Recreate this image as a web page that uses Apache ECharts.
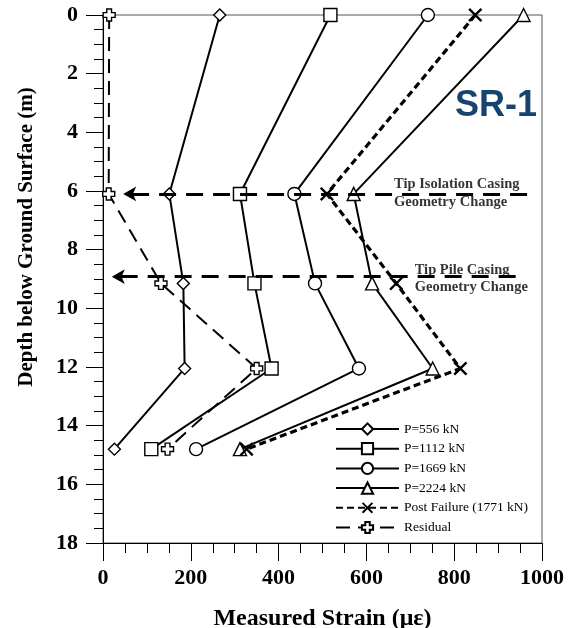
<!DOCTYPE html>
<html>
<head>
<meta charset="utf-8">
<script src="https://cdn.jsdelivr.net/npm/echarts@6/dist/echarts.min.js"></script>
<style>
  html, body { margin: 0; padding: 0; background: #fff; }
  #chart { width: 569px; height: 628px; }
</style>
</head>
<body>
<div id="chart"></div>
<script>
// depths (m) of the gauge levels
const depths = [0, 6.1, 9.15, 12.05, 14.8]

// measured strain (micro-strain) per load at each depth
const p556 = [266, 151, 183, 186, 26]
const p1112 = [518, 312, 345, 384, 110]
const p1669 = [740, 436, 483, 583, 212]
const p2224 = [958, 571, 613, 751, 312]
const postFailure = [848, 510, 668, 814, 327]
const residual = [14, 13, 132, 350, 147]

const seriesNames = ['P=556 kN', 'P=1112 kN', 'P=1669 kN', 'P=2224 kN', 'Post Failure (1771 kN)', 'Residual']

// geometry change arrows: [x start, x end, depth]
const tipIsolation = [966, 46, 6.1]
const tipPile = [940, 20, 8.92]

const serif = 'Liberation Serif'
const plusPath = 'path://M3,0 H7 V3 H10 V7 H7 V10 H3 V7 H0 V3 H3 Z'
const crossPath = 'path://M0,1.2 L1.2,0 L5,3.8 L8.8,0 L10,1.2 L6.2,5 L10,8.8 L8.8,10 L5,6.2 L1.2,10 L0,8.8 L3.8,5 Z'

const toPairs = (vals) => vals.map((v, i) => [v, depths[i]])

const myChart = echarts.init(document.getElementById('chart'))

const loadSeries = (name, vals, symbol, size) => ({
  name: name,
  type: 'line',
  data: toPairs(vals),
  symbol: symbol,
  symbolSize: size,
  clip: false,
  z: 3,
  lineStyle: { color: '#000', width: 2 },
  itemStyle: { color: '#fff', borderColor: '#000', borderWidth: 1.4 },
})

const arrowLine = (a) => [{ coord: [a[0], a[2]] }, { coord: [a[1], a[2]] }]

const option = {
  animation: false,
  title: {
    text: 'SR-1',
    left: 450,
    top: 83,
    textStyle: { fontFamily: 'Liberation Sans', fontWeight: 'bold', fontSize: 36, color: '#17436f' },
  },
  grid: {
    left: 103,
    right: 27,
    top: 15,
    bottom: 85,
    outerBoundsMode: 'none',
    containLabel: false,
    show: true,
    borderColor: '#555',
    borderWidth: 1,
  },
  legend: {
    data: seriesNames,
    orient: 'vertical',
    left: 330,
    top: 417,
    itemWidth: 63,
    itemHeight: 14,
    itemGap: 5.7,
    lineStyle: { width: 2 },
    textStyle: { fontFamily: serif, fontSize: 13.5, color: '#000' },
  },
  xAxis: {
    type: 'value',
    min: 0,
    max: 1000,
    interval: 200,
    name: 'Measured Strain (με)',
    nameLocation: 'middle',
    nameGap: 64,
    nameTextStyle: { fontFamily: serif, fontWeight: 'bold', fontSize: 24, color: '#000' },
    axisLine: { onZero: false, lineStyle: { color: '#000', width: 1 } },
    axisTick: { length: 18, lineStyle: { color: '#000' } },
    minorTick: { show: true, splitNumber: 4, length: 10, lineStyle: { color: '#000' } },
    splitLine: { show: false },
    axisLabel: {
      margin: 24,
      formatter: (v) => String(v),
      fontFamily: serif,
      fontWeight: 'bold',
      fontSize: 22,
      color: '#000',
    },
  },
  yAxis: {
    type: 'value',
    inverse: true,
    min: 0,
    max: 18,
    interval: 2,
    axisLine: { onZero: false, lineStyle: { color: '#000', width: 1 } },
    axisTick: { length: 17, lineStyle: { color: '#000' } },
    minorTick: { show: true, splitNumber: 4, length: 9, lineStyle: { color: '#000' } },
    splitLine: { show: false },
    axisLabel: { margin: 25, fontFamily: serif, fontWeight: 'bold', fontSize: 22, color: '#000' },
  },
  graphic: [
    {
      type: 'text',
      x: 27,
      y: 237,
      rotation: Math.PI / 2,
      style: {
        text: 'Depth below Ground Surface (m)',
        font: 'bold 21px "Liberation Serif"',
        fill: '#000',
        align: 'center',
        verticalAlign: 'middle',
      },
    },
  ],
  series: [
    loadSeries(seriesNames[0], p556, 'diamond', 12),
    loadSeries(seriesNames[1], p1112, 'rect', 13),
    loadSeries(seriesNames[2], p1669, 'circle', 13),
    loadSeries(seriesNames[3], p2224, 'triangle', 13),
    {
      name: seriesNames[4],
      type: 'line',
      data: toPairs(postFailure),
      symbol: crossPath,
      symbolSize: 14,
      clip: false,
      z: 4,
      lineStyle: { color: '#000', width: 3.2, type: [7, 4] },
      itemStyle: { color: '#000' },
    },
    {
      name: seriesNames[5],
      type: 'line',
      data: toPairs(residual),
      symbol: plusPath,
      symbolSize: 12,
      clip: false,
      z: 4,
      lineStyle: { color: '#000', width: 2, type: [14, 8] },
      itemStyle: { color: '#fff', borderColor: '#000', borderWidth: 1.4 },
    },
    {
      name: 'annotations',
      type: 'scatter',
      symbolSize: 0,
      silent: true,
      z: 5,
      data: [
        { value: [663, 5.78], label: { formatter: 'Tip Isolation Casing' } },
        { value: [663, 6.38], label: { formatter: 'Geometry Change' } },
        { value: [710, 8.7], label: { formatter: 'Tip Pile Casing' } },
        { value: [710, 9.28], label: { formatter: 'Geometry Change' } },
      ],
      label: {
        show: true,
        position: 'right',
        distance: 0,
        fontFamily: serif,
        fontWeight: 'bold',
        fontSize: 14.5,
        color: '#000',
      },
      markLine: {
        silent: true,
        symbol: ['none', 'arrow'],
        symbolSize: [11, 13],
        label: { show: false },
        lineStyle: { color: '#000', width: 3, type: [17, 10] },
        data: [arrowLine(tipIsolation), arrowLine(tipPile)],
      },
    },
  ],
}

myChart.setOption(option)
</script>
</body>
</html>
